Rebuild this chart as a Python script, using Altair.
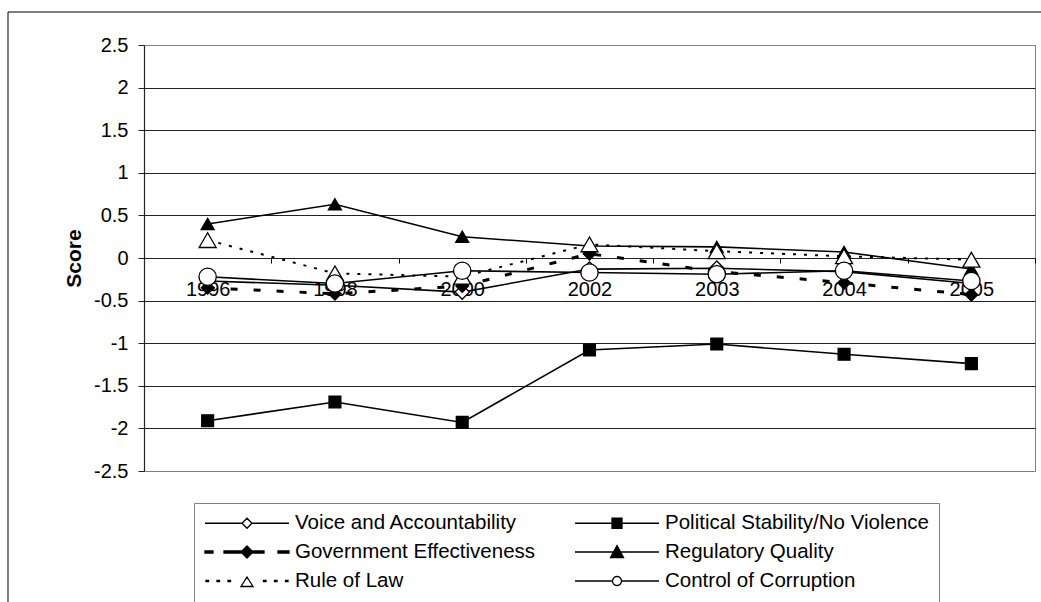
import altair as alt
import pandas as pd
import math

# ---------------- data ----------------
years = ["1996", "1998", "2000", "2002", "2003", "2004", "2005"]
series_names = [
    "Voice and Accountability",
    "Political Stability/No Violence",
    "Government Effectiveness",
    "Regulatory Quality",
    "Rule of Law",
    "Control of Corruption",
]
voice = [-0.27, -0.32, -0.40, -0.13, -0.12, -0.16, -0.30]
pol_stab = [-1.91, -1.69, -1.93, -1.08, -1.01, -1.13, -1.24]
gov_eff = [-0.35, -0.42, -0.33, 0.05, -0.16, -0.29, -0.43]
reg_qual = [0.40, 0.63, 0.25, 0.14, 0.13, 0.07, -0.13]
rule_law = [0.21, -0.18, -0.22, 0.16, 0.08, 0.02, -0.02]
corruption = [-0.22, -0.30, -0.15, -0.17, -0.19, -0.15, -0.27]
y_ticks = [-2.5, -2, -1.5, -1, -0.5, 0, 0.5, 1, 1.5, 2, 2.5]

all_values = [voice, pol_stab, gov_eff, reg_qual, rule_law, corruption]
rows = []
for name, vals in zip(series_names, all_values):
    for yr, v in zip(years, vals):
        rows.append({"year": yr, "series": name, "score": v})
df = pd.DataFrame(rows)

# ---------------- styles ----------------
FONT = "Liberation Sans"
styles = {
    "Voice and Accountability": dict(dash=None, lw=1.6, shape="diamond", filled=False, size=210),
    "Political Stability/No Violence": dict(dash=None, lw=1.6, shape="square", filled=True, size=140),
    "Government Effectiveness": dict(dash=[7, 16], lw=3, shape="diamond", filled=True, size=160),
    "Regulatory Quality": dict(dash=None, lw=1.6, shape="triangle-up", filled=True, size=170),
    "Rule of Law": dict(dash=[3, 8], lw=2, shape="triangle-up", filled=False, size=290),
    "Control of Corruption": dict(dash=None, lw=1.6, shape="circle", filled=False, size=300),
}

# legend symbols: line + marker drawn as one custom path (unit box -1..1, scaled by R px)
R = 42.0


def f(v):
    return ("%.4f" % (v / R)).rstrip("0").rstrip(".")


def seg(x0, x1):
    return "M%s,0L%s,0" % (f(x0), f(x1))


def rect(x0, x1, h):
    return "M%s,%sL%s,%sL%s,%sL%s,%sZ" % (f(x0), f(-h), f(x1), f(-h), f(x1), f(h), f(x0), f(h))


def poly(pts):
    return "M" + "L".join("%s,%s" % (f(x), f(y)) for x, y in pts) + "Z"


circle_pts = [(4.5 * math.cos(2 * math.pi * k / 20), 4.5 * math.sin(2 * math.pi * k / 20)) for k in range(20)]

legend_path_map = {
    "Voice and Accountability": seg(-42, -5) + seg(5, 42) + poly([(0, -5), (5, 0), (0, 5), (-5, 0)]),
    "Political Stability/No Violence": seg(-42, 42) + poly([(-5, -5), (5, -5), (5, 5), (-5, 5)]),
    "Government Effectiveness": rect(-42, -34, 1) + rect(-23, -6, 1) + rect(6, 17, 1) + rect(31, 42, 1)
    + poly([(0, -6), (6, 0), (0, 6), (-6, 0)]),
    "Regulatory Quality": seg(-42, 42) + poly([(0, -6.5), (6.5, 5.5), (-6.5, 5.5)]),
    "Rule of Law": rect(-41, -38.5, 0.6) + rect(-30, -27.5, 0.6) + rect(-19, -16.5, 0.6)
    + rect(16.5, 19, 0.6) + rect(27.5, 30, 0.6) + rect(38.5, 41, 0.6)
    + poly([(0, -4), (6, 5.5), (-6, 5.5)]),
    "Control of Corruption": seg(-42, -4.5) + seg(4.5, 42) + poly(circle_pts),
}
# legend fills column by column: reorder so rows read as in the original
legend_order = [series_names[i] for i in (0, 2, 4, 1, 3, 5)]
legend_paths = [legend_path_map[n] for n in legend_order]
legend_fills = ["white" if not styles[n]["filled"] else "black" for n in legend_order]
legend_strokes = ["black"] * len(legend_order)

# ---------------- encodings ----------------
x_enc = alt.X(
    "year:O",
    sort=years,
    scale=alt.Scale(type="band", domain=years, paddingInner=0, paddingOuter=0),
    axis=alt.Axis(
        orient="bottom",
        offset=-213,
        domain=False,
        grid=False,
        tickBand="extent",
        tickSize=5,
        tickColor="black",
        labelAngle=0,
        labelFont=FONT,
        labelFontSize=20,
        labelColor="black",
        labelPadding=16,
        title=None,
    ),
)
y_enc = alt.Y(
    "score:Q",
    scale=alt.Scale(domain=[-2.5, 2.5], nice=False, zero=False),
    axis=alt.Axis(
        values=y_ticks,
        labelExpr="'' + datum.value",
        grid=True,
        gridColor={"condition": {"test": "abs(datum.value) > 2.4", "value": "#808080"}, "value": "#222222"},
        gridWidth=1,
        domainColor="#222222",
        domainWidth=1.2,
        tickColor="#222222",
        tickSize=6,
        labelFont=FONT,
        labelFontSize=20,
        labelColor="black",
        labelPadding=10,
        title="Score",
        titleFont=FONT,
        titleFontSize=21,
        titleFontWeight="bold",
        titleColor="black",
        titlePadding=9,
    ),
)

base = alt.Chart(df)
layers = []
for name in series_names:
    st = styles[name]
    sub = base.transform_filter(alt.datum.series == name)
    line_kw = dict(color="black", strokeWidth=st["lw"])
    if st["dash"]:
        line_kw["strokeDash"] = st["dash"]
    layers.append(sub.mark_line(**line_kw).encode(x=x_enc, y=y_enc))
    layers.append(
        sub.mark_point(
            shape=st["shape"],
            filled=True,
            fill="black" if st["filled"] else "white",
            stroke="black",
            strokeWidth=1.3,
            size=st["size"],
            opacity=1,
        ).encode(x=x_enc, y=y_enc)
    )

legend_def = alt.Legend(
    orient="none",
    legendX=50,
    legendY=458,
    columns=2,
    title=None,
    labelFont=FONT,
    labelFontSize=20.5,
    labelColor="black",
    labelLimit=600,
    labelOffset=5,
    symbolSize=7056,
    symbolStrokeWidth=1.3,
    symbolStrokeColor="black",
    symbolOpacity=1,
    symbolOffset=0,
    clipHeight=20,
    rowPadding=8,
    columnPadding=38,
    padding=10,
    strokeColor="#808080",
)
legend_layer = base.mark_point(opacity=0, filled=False, color="black", stroke="black",
                               strokeWidth=1.3, size=10).encode(
    x=x_enc,
    y=y_enc,
    shape=alt.Shape("series:N", sort=legend_order,
                    scale=alt.Scale(domain=legend_order, range=legend_paths), legend=legend_def),
    fill=alt.Fill("series:N", sort=legend_order,
                  scale=alt.Scale(domain=legend_order, range=legend_fills), legend=legend_def),
    stroke=alt.Stroke("series:N", sort=legend_order,
                      scale=alt.Scale(domain=legend_order, range=legend_strokes), legend=legend_def),
)
layers.append(legend_layer)

# outer chart frame (decoration)
one = pd.DataFrame({"k": [0]})
frame_left = alt.Chart(one).mark_rule(color="black", strokeWidth=1).encode(
    x=alt.value(-136), y=alt.value(-33), y2=alt.value(557))
frame_top = alt.Chart(one).mark_rule(color="black", strokeWidth=1).encode(
    x=alt.value(-136), x2=alt.value(897), y=alt.value(-33))
layers.extend([frame_left, frame_top])

chart = (
    alt.layer(*layers)
    .properties(
        width=891,
        height=426,
        padding={"left": 144, "top": 45, "right": 6, "bottom": 131},
        autosize=alt.AutoSizeParams(type="none"),
        background="white",
    )
    .configure_view(stroke="#808080", strokeWidth=1)
)

chart.save("out.html", embed_options={"renderer": "svg", "actions": False})
